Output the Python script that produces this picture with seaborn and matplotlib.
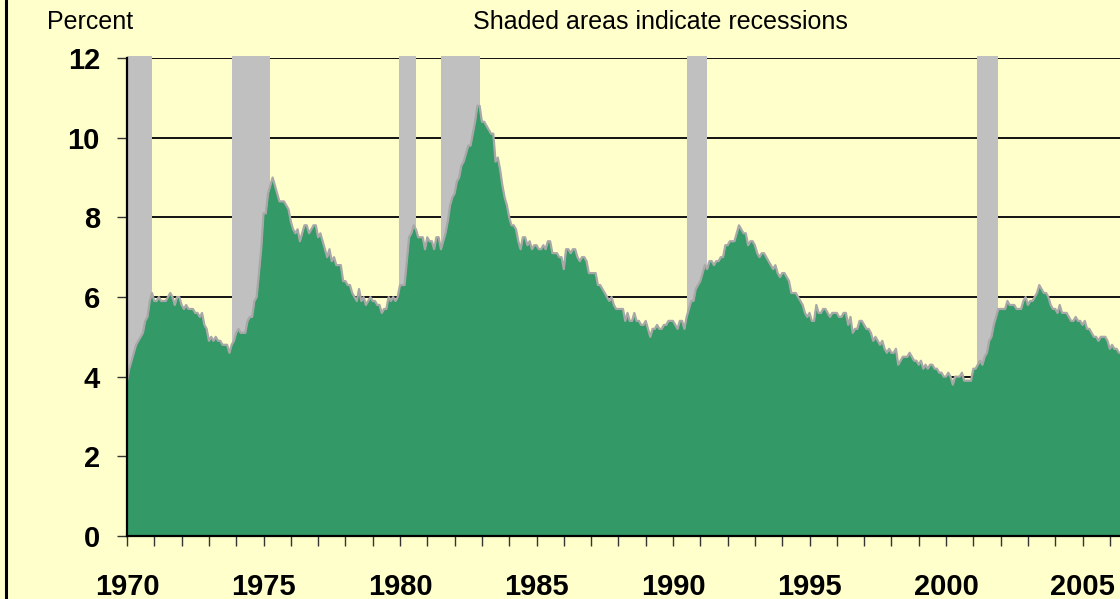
import numpy as np
import pandas as pd
import matplotlib
matplotlib.use("Agg")
import matplotlib.pyplot as plt
import seaborn as sns
from matplotlib.lines import Line2D

# Monthly unemployment rate (percent), Jan 1970 onward
u1970 = [3.9, 4.2, 4.4, 4.6, 4.8, 4.9, 5.0, 5.1, 5.4, 5.5, 5.9, 6.1]
u1971 = [5.9, 5.9, 6.0, 5.9, 5.9, 5.9, 6.0, 6.1, 6.0, 5.8, 6.0, 6.0]
u1972 = [5.8, 5.7, 5.8, 5.7, 5.7, 5.7, 5.6, 5.6, 5.5, 5.6, 5.3, 5.2]
u1973 = [4.9, 5.0, 4.9, 5.0, 4.9, 4.9, 4.8, 4.8, 4.8, 4.6, 4.8, 4.9]
u1974 = [5.1, 5.2, 5.1, 5.1, 5.1, 5.4, 5.5, 5.5, 5.9, 6.0, 6.6, 7.2]
u1975 = [8.1, 8.1, 8.6, 8.8, 9.0, 8.8, 8.6, 8.4, 8.4, 8.4, 8.3, 8.2]
u1976 = [7.9, 7.7, 7.6, 7.7, 7.4, 7.6, 7.8, 7.8, 7.6, 7.7, 7.8, 7.8]
u1977 = [7.5, 7.6, 7.4, 7.2, 7.0, 7.2, 6.9, 7.0, 6.8, 6.8, 6.8, 6.4]
u1978 = [6.4, 6.3, 6.3, 6.1, 6.0, 5.9, 6.2, 5.9, 6.0, 5.8, 5.9, 6.0]
u1979 = [5.9, 5.9, 5.8, 5.8, 5.6, 5.7, 5.7, 6.0, 5.9, 6.0, 5.9, 6.0]
u1980 = [6.3, 6.3, 6.3, 6.9, 7.5, 7.6, 7.8, 7.7, 7.5, 7.5, 7.5, 7.2]
u1981 = [7.5, 7.4, 7.4, 7.2, 7.5, 7.5, 7.2, 7.4, 7.6, 7.9, 8.3, 8.5]
u1982 = [8.6, 8.9, 9.0, 9.3, 9.4, 9.6, 9.8, 9.8, 10.1, 10.4, 10.8, 10.8]
u1983 = [10.4, 10.4, 10.3, 10.2, 10.1, 10.1, 9.4, 9.5, 9.2, 8.8, 8.5, 8.3]
u1984 = [8.0, 7.8, 7.8, 7.7, 7.4, 7.2, 7.5, 7.5, 7.3, 7.4, 7.2, 7.3]
u1985 = [7.3, 7.2, 7.2, 7.3, 7.2, 7.4, 7.4, 7.1, 7.1, 7.1, 7.0, 7.0]
u1986 = [6.7, 7.2, 7.2, 7.1, 7.2, 7.2, 7.0, 6.9, 7.0, 7.0, 6.9, 6.6]
u1987 = [6.6, 6.6, 6.6, 6.3, 6.3, 6.2, 6.1, 6.0, 5.9, 6.0, 5.8, 5.7]
u1988 = [5.7, 5.7, 5.7, 5.4, 5.6, 5.4, 5.4, 5.6, 5.4, 5.4, 5.3, 5.3]
u1989 = [5.4, 5.2, 5.0, 5.2, 5.2, 5.3, 5.2, 5.2, 5.3, 5.3, 5.4, 5.4]
u1990 = [5.4, 5.3, 5.2, 5.4, 5.4, 5.2, 5.5, 5.7, 5.9, 5.9, 6.2, 6.3]
u1991 = [6.4, 6.6, 6.8, 6.7, 6.9, 6.9, 6.8, 6.9, 6.9, 7.0, 7.0, 7.3]
u1992 = [7.3, 7.4, 7.4, 7.4, 7.6, 7.8, 7.7, 7.6, 7.6, 7.3, 7.4, 7.4]
u1993 = [7.3, 7.1, 7.0, 7.1, 7.1, 7.0, 6.9, 6.8, 6.7, 6.8, 6.6, 6.5]
u1994 = [6.6, 6.6, 6.5, 6.4, 6.1, 6.1, 6.1, 6.0, 5.9, 5.8, 5.6, 5.5]
u1995 = [5.6, 5.4, 5.4, 5.8, 5.6, 5.6, 5.7, 5.7, 5.6, 5.5, 5.6, 5.6]
u1996 = [5.6, 5.5, 5.5, 5.6, 5.6, 5.3, 5.5, 5.1, 5.2, 5.2, 5.4, 5.4]
u1997 = [5.3, 5.2, 5.2, 5.1, 4.9, 5.0, 4.9, 4.8, 4.9, 4.7, 4.6, 4.7]
u1998 = [4.6, 4.6, 4.7, 4.3, 4.4, 4.5, 4.5, 4.5, 4.6, 4.5, 4.4, 4.4]
u1999 = [4.3, 4.4, 4.2, 4.3, 4.2, 4.3, 4.3, 4.2, 4.2, 4.1, 4.1, 4.0]
u2000 = [4.0, 4.1, 4.0, 3.8, 4.0, 4.0, 4.0, 4.1, 3.9, 3.9, 3.9, 3.9]
u2001 = [4.2, 4.2, 4.3, 4.4, 4.3, 4.5, 4.6, 4.9, 5.0, 5.3, 5.5, 5.7]
u2002 = [5.7, 5.7, 5.7, 5.9, 5.8, 5.8, 5.8, 5.7, 5.7, 5.7, 5.9, 6.0]
u2003 = [5.8, 5.9, 5.9, 6.0, 6.1, 6.3, 6.2, 6.1, 6.1, 6.0, 5.8, 5.7]
u2004 = [5.7, 5.6, 5.8, 5.6, 5.6, 5.6, 5.5, 5.4, 5.4, 5.5, 5.4, 5.4]
u2005 = [5.3, 5.4, 5.2, 5.2, 5.1, 5.0, 5.0, 4.9, 5.0, 5.0, 5.0, 4.9]
u2006 = [4.7, 4.8, 4.7, 4.7, 4.6, 4.6]

# Recession periods (decimal years: start, end)
rec_start = [1969.95, 1973.83, 1979.95, 1981.5, 1990.5, 2001.15]
rec_end = [1970.9, 1975.25, 1980.6, 1982.92, 1991.25, 2001.9]

y_ticks = [0, 2, 4, 6, 8, 10, 12]
x_ticks = [1970, 1975, 1980, 1985, 1990, 1995, 2000, 2005]
x_labels = ["1970", "1975", "1980", "1985", "1990", "1995", "2000", "2005"]

rates = (u1970 + u1971 + u1972 + u1973 + u1974 + u1975 + u1976 + u1977 + u1978 + u1979 +
         u1980 + u1981 + u1982 + u1983 + u1984 + u1985 + u1986 + u1987 + u1988 + u1989 +
         u1990 + u1991 + u1992 + u1993 + u1994 + u1995 + u1996 + u1997 + u1998 + u1999 +
         u2000 + u2001 + u2002 + u2003 + u2004 + u2005 + u2006)
df = pd.DataFrame({"t": 1970 + np.arange(len(rates)) / 12.0, "rate": rates})

BG = "#FFFFCC"
GREEN = "#339966"
GREY = "#C0C0C0"

sns.set_theme(style="white")
plt.rcParams["font.family"] = ["Liberation Sans", "DejaVu Sans"]
plt.rcParams["text.color"] = "black"
plt.rcParams["xtick.color"] = "black"
plt.rcParams["ytick.color"] = "black"

fig = plt.figure(figsize=(11.2, 5.99), dpi=100, facecolor=BG)
ax = fig.add_axes([127 / 1120, 63 / 599, 1 - 127 / 1120, 478 / 599])
ax.set_facecolor(BG)

ax.set_xlim(1970, 1970 + (1120 - 127) / 27.3)
ax.set_ylim(0, 12)

# gridlines (behind everything)
for yv in y_ticks[1:]:
    ax.axhline(yv, color="#111111", lw=1.4, zorder=0.5)

# recession shading
for s, e in zip(rec_start, rec_end):
    ax.axvspan(max(s, 1970), e, ymin=0, ymax=1.004, color=GREY, lw=0, zorder=1, clip_on=False)

# area
ax.fill_between(df["t"], 0, df["rate"], color=GREEN, lw=0, zorder=2)
sns.lineplot(data=df, x="t", y="rate", ax=ax, color="#A8A8A8", lw=1.6, zorder=3)

ax.set_xlabel("")
ax.set_ylabel("")
ax.set_yticks(y_ticks)
ax.set_yticklabels([str(v) for v in y_ticks], fontsize=21, fontweight="bold", color="black")
ax.set_xticks(x_ticks)
ax.set_xticklabels(x_labels, fontsize=21, fontweight="bold", color="black")
ax.set_xticks(np.arange(1970, 2007), minor=True)
ax.tick_params(axis="y", which="major", length=7.5, width=1.0, color="#333333", pad=12, direction="out", left=True)
ax.tick_params(axis="x", which="both", length=7.5, width=1.0, color="#333333", pad=19, direction="out", bottom=True)

for side in ["top", "right"]:
    ax.spines[side].set_visible(False)
for side in ["left", "bottom"]:
    ax.spines[side].set_color("black")
    ax.spines[side].set_linewidth(1.6)
    ax.spines[side].set_zorder(4)

fig.text(90 / 1120, 1 - 22 / 599, "Percent", ha="center", va="center", fontsize=18, color="black")
fig.text(660 / 1120, 1 - 22 / 599, "Shaded areas indicate recessions", ha="center", va="center",
         fontsize=18, color="black")

fig.add_artist(Line2D([5.5 / 1120, 5.5 / 1120], [0, 1], transform=fig.transFigure, color="black", lw=2.2))

fig.savefig("out.png", dpi=100, facecolor=BG)
